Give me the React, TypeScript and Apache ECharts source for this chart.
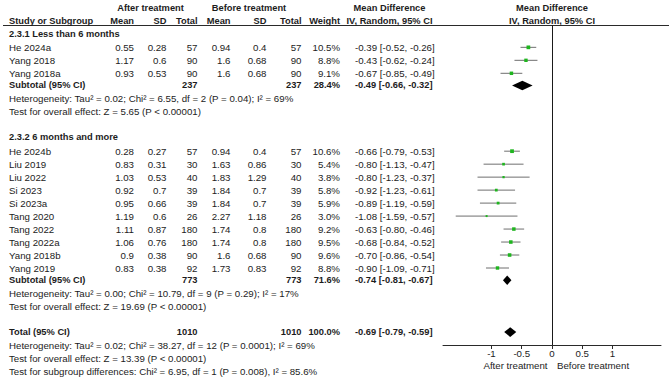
import React, { useEffect, useRef } from "react";
import * as echarts from "echarts";

// Study-level data
const studies = ["He 2024a", "Yang 2018", "Yang 2018a", "He 2024b", "Liu 2019", "Liu 2022", "Si 2023", "Si 2023a", "Tang 2020", "Tang 2022", "Tang 2022a", "Yang 2018b", "Yang 2019"];
const studyGroup = [0, 0, 0, 1, 1, 1, 1, 1, 1, 1, 1, 1, 1];
const afterMean = [0.55, 1.17, 0.93, 0.28, 0.83, 1.03, 0.92, 0.95, 1.19, 1.11, 1.06, 0.9, 0.83];
const afterSD = [0.28, 0.6, 0.53, 0.27, 0.31, 0.53, 0.7, 0.66, 0.6, 0.87, 0.76, 0.38, 0.38];
const afterTotal = [57, 90, 90, 57, 30, 40, 39, 39, 26, 180, 180, 90, 92];
const beforeMean = [0.94, 1.6, 1.6, 0.94, 1.63, 1.83, 1.84, 1.84, 2.27, 1.74, 1.74, 1.6, 1.73];
const beforeSD = [0.4, 0.68, 0.68, 0.4, 0.86, 1.29, 0.7, 0.7, 1.18, 0.8, 0.8, 0.68, 0.83];
const beforeTotal = [57, 90, 90, 57, 30, 40, 39, 39, 26, 180, 180, 90, 92];
const weight = [10.5, 8.8, 9.1, 10.6, 5.4, 3.8, 5.8, 5.9, 3.0, 9.2, 9.5, 9.6, 8.8];
const md = [-0.39, -0.43, -0.67, -0.66, -0.8, -0.8, -0.92, -0.89, -1.08, -0.63, -0.68, -0.7, -0.9];
const ciLow = [-0.52, -0.62, -0.85, -0.79, -1.13, -1.23, -1.23, -1.19, -1.59, -0.8, -0.84, -0.86, -1.09];
const ciHigh = [-0.26, -0.24, -0.49, -0.53, -0.47, -0.37, -0.61, -0.59, -0.57, -0.46, -0.52, -0.54, -0.71];

// Subgroup summaries
const groupNames = ["2.3.1 Less than 6 months", "2.3.2 6 months and more"];
const groupAfterTotal = [237, 773];
const groupBeforeTotal = [237, 773];
const groupWeight = [28.4, 71.6];
const groupMd = [-0.49, -0.74];
const groupLow = [-0.66, -0.81];
const groupHigh = [-0.32, -0.67];
const groupHet = [
  "Heterogeneity: Tau² = 0.02; Chi² = 6.55, df = 2 (P = 0.04); I² = 69%",
  "Heterogeneity: Tau² = 0.00; Chi² = 10.79, df = 9 (P = 0.29); I² = 17%",
];
const groupTest = [
  "Test for overall effect: Z = 5.65 (P < 0.00001)",
  "Test for overall effect: Z = 19.69 (P < 0.00001)",
];

// Overall summary
const totalAfter = 1010;
const totalBefore = 1010;
const totalWeight = 100.0;
const totalMd = -0.69;
const totalLow = -0.79;
const totalHigh = -0.59;
const totalNotes = [
  "Heterogeneity: Tau² = 0.02; Chi² = 38.27, df = 12 (P = 0.0001); I² = 69%",
  "Test for overall effect: Z = 13.39 (P < 0.00001)",
  "Test for subgroup differences: Chi² = 6.95, df = 1 (P = 0.008), I² = 85.6%",
];

// Axis
const tickValues = [-1, -0.5, 0, 0.5, 1];
const axisMin = -1.8;
const axisMax = 1.8;

// Layout
const W = 669;
const H = 377;
const ROW0 = 7.6;
const PITCH = 12.98;
const rowY = (r: number) => ROW0 + PITCH * r;
const FONT = "Arial, Liberation Sans, Helvetica, sans-serif";
const FS = 9.7;
const FS_BOLD = 9.3;
const INK = "#1c1c1c";
const COL_RIGHT = [134, 166.5, 197.5, 230.5, 266.5, 301.5, 340];
const MD_LEFT = 355;
const NAME_LEFT = 9;
const PLOT_LEFT = 443;
const PLOT_RIGHT = 661;
const HEADER_LINE_Y = 25.5;
const AXIS_Y = 345;

const fmtCI = (m: number, l: number, h: number) => `${m.toFixed(2)} [${l.toFixed(2)}, ${h.toFixed(2)}]`;

function txt(text: string, x: number, y: number, align: string = "left", bold = false) {
  return {
    type: "text",
    x,
    y,
    silent: true,
    style: {
      text,
      x: 0,
      y: 0,
      align,
      textAlign: align,
      verticalAlign: "middle",
      textVerticalAlign: "middle",
      fontFamily: FONT,
      fontSize: bold ? FS_BOLD : FS,
      fontWeight: bold ? "bold" : "normal",
      fill: INK,
    },
  };
}

export default function App() {
  const ref = useRef<HTMLDivElement>(null);

  useEffect(() => {
    const chart = echarts.init(ref.current!, null, { renderer: "svg" });

    const texts: any[] = [];
    // Column headers
    texts.push(txt("After treatment", 150.5, rowY(0), "center", true));
    texts.push(txt("Before treatment", 249, rowY(0), "center", true));
    texts.push(txt("Mean Difference", 389.5, rowY(0), "center", true));
    texts.push(txt("IV, Random, 95% CI", 389.5, rowY(1), "center", true));
    texts.push(txt("Mean Difference", 552, rowY(0), "center", true));
    texts.push(txt("IV, Random, 95% CI", 552, rowY(1), "center", true));
    texts.push(txt("Study or Subgroup", NAME_LEFT, rowY(1), "left", true));
    ["Mean", "SD", "Total", "Mean", "SD", "Total", "Weight"].forEach((h, i) =>
      texts.push(txt(h, COL_RIGHT[i], rowY(1), "right", true))
    );

    const studyRows: number[] = [];
    const groupRows: number[] = [];
    let row = 2;
    groupNames.forEach((g, gi) => {
      texts.push(txt(g, NAME_LEFT, rowY(row), "left", true));
      row++;
      studies.forEach((s, i) => {
        if (studyGroup[i] !== gi) return;
        studyRows[i] = row;
        const y = rowY(row) + 0.8;
        texts.push(txt(s, NAME_LEFT, y));
        const cells = [
          String(afterMean[i]),
          String(afterSD[i]),
          String(afterTotal[i]),
          String(beforeMean[i]),
          String(beforeSD[i]),
          String(beforeTotal[i]),
          `${weight[i].toFixed(1)}%`,
        ];
        cells.forEach((c, ci) => texts.push(txt(c, COL_RIGHT[ci], y, "right")));
        texts.push(txt(fmtCI(md[i], ciLow[i], ciHigh[i]), MD_LEFT, y));
        row++;
      });
      groupRows[gi] = row;
      const y = rowY(row);
      texts.push(txt("Subtotal (95% CI)", NAME_LEFT, y, "left", true));
      texts.push(txt(String(groupAfterTotal[gi]), COL_RIGHT[2], y, "right", true));
      texts.push(txt(String(groupBeforeTotal[gi]), COL_RIGHT[5], y, "right", true));
      texts.push(txt(`${groupWeight[gi].toFixed(1)}%`, COL_RIGHT[6], y, "right", true));
      texts.push(txt(fmtCI(groupMd[gi], groupLow[gi], groupHigh[gi]), MD_LEFT, y, "left", true));
      row++;
      texts.push(txt(groupHet[gi], NAME_LEFT, rowY(row)));
      row++;
      texts.push(txt(groupTest[gi], NAME_LEFT, rowY(row)));
      row += 2;
    });
    const totalRow = row;
    {
      const y = rowY(row);
      texts.push(txt("Total (95% CI)", NAME_LEFT, y, "left", true));
      texts.push(txt(String(totalAfter), COL_RIGHT[2], y, "right", true));
      texts.push(txt(String(totalBefore), COL_RIGHT[5], y, "right", true));
      texts.push(txt(`${totalWeight.toFixed(1)}%`, COL_RIGHT[6], y, "right", true));
      texts.push(txt(fmtCI(totalMd, totalLow, totalHigh), MD_LEFT, y, "left", true));
      row++;
      totalNotes.forEach((n) => {
        texts.push(txt(n, NAME_LEFT, rowY(row)));
        row++;
      });
    }
    texts.push(txt("After treatment", 515.5, 365, "center"));
    texts.push(txt("Before treatment", 593, 365, "center"));

    const headerLine = {
      type: "line",
      silent: true,
      shape: { x1: 3, y1: HEADER_LINE_Y, x2: W, y2: HEADER_LINE_Y },
      style: { stroke: "#2a2a2a", lineWidth: 1 },
    };

    const yMin = (HEADER_LINE_Y - ROW0) / PITCH;
    const yMax = (AXIS_Y - ROW0) / PITCH;

    const studyData = studies.map((_, i) => [md[i], studyRows[i], ciLow[i], ciHigh[i], weight[i]]);
    const diamondData = [
      ...groupNames.map((_, gi) => [groupMd[gi], groupRows[gi], groupLow[gi], groupHigh[gi]]),
      [totalMd, totalRow, totalLow, totalHigh],
    ];

    const option: any = {
      animation: false,
      backgroundColor: "#ffffff",
      textStyle: { fontFamily: FONT },
      grid: {
        left: PLOT_LEFT,
        right: W - PLOT_RIGHT,
        top: HEADER_LINE_Y,
        bottom: H - AXIS_Y,
        containLabel: false,
      },
      xAxis: {
        type: "value",
        min: axisMin,
        max: axisMax,
        splitLine: { show: false },
        axisLine: { onZero: false, lineStyle: { color: "#2a2a2a", width: 1 } },
        axisTick: { show: true, length: 4, customValues: tickValues, lineStyle: { color: "#2a2a2a" } },
        axisLabel: {
          customValues: tickValues,
          margin: 3,
          fontSize: FS,
          fontFamily: FONT,
          color: INK,
          formatter: (v: number) => String(v),
        },
      },
      yAxis: {
        type: "value",
        inverse: true,
        min: yMin,
        max: yMax,
        splitLine: { show: false },
        axisLine: { show: true, onZero: true, lineStyle: { color: "#1a1a1a", width: 1 } },
        axisTick: { show: false },
        axisLabel: { show: false },
      },
      series: [
        {
          type: "custom",
          name: "Studies",
          data: studyData,
          renderItem: (_p: any, api: any) => {
            const r = api.value(1);
            const c = api.coord([api.value(0), r]);
            const lo = api.coord([api.value(2), r]);
            const hi = api.coord([api.value(3), r]);
            const y = c[1] + 0.8;
            const s = 1.15 * Math.sqrt(api.value(4));
            return {
              type: "group",
              children: [
                {
                  type: "line",
                  shape: { x1: lo[0], y1: y, x2: hi[0], y2: y },
                  style: { stroke: "#6f6f6f", lineWidth: 1 },
                },
                {
                  type: "rect",
                  shape: { x: c[0] - s / 2, y: y - s / 2, width: s, height: s },
                  style: { fill: "#1fb51f" },
                },
              ],
            };
          },
        },
        {
          type: "custom",
          name: "Pooled",
          data: diamondData,
          renderItem: (_p: any, api: any) => {
            const r = api.value(1);
            const c = api.coord([api.value(0), r]);
            const lo = api.coord([api.value(2), r]);
            const hi = api.coord([api.value(3), r]);
            const h = 4.8;
            return {
              type: "polygon",
              shape: {
                points: [
                  [lo[0], c[1]],
                  [c[0], c[1] - h],
                  [hi[0], c[1]],
                  [c[0], c[1] + h],
                ],
              },
              style: { fill: "#000000" },
            };
          },
        },
      ],
      graphic: [headerLine, ...texts],
    };

    chart.setOption(option);
    return () => chart.dispose();
  }, []);

  return (
    <div
      ref={ref}
      style={{ position: "absolute", left: 0, top: 0, width: W, height: H, background: "#fff" }}
    />
  );
}
